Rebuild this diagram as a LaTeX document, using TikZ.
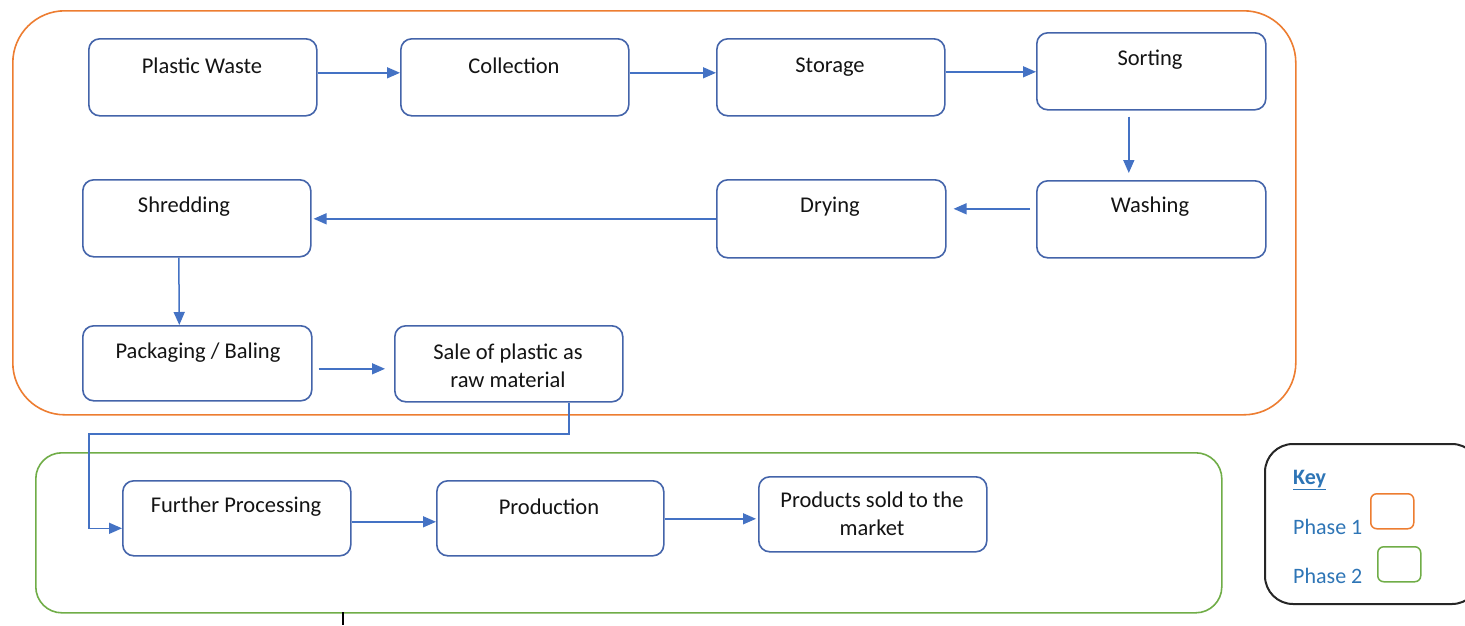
\documentclass[tikz,border=0pt]{standalone}
\usepackage{fontspec}
\setmainfont{Carlito}
\usetikzlibrary{arrows.meta}
\definecolor{boxblue}{RGB}{68,100,170}
\definecolor{arrblue}{RGB}{68,114,196}
\definecolor{phaseorange}{RGB}{237,125,49}
\definecolor{phasegreen}{RGB}{112,173,71}
\definecolor{keyblue}{RGB}{46,117,182}
\definecolor{txt}{RGB}{20,20,20}
\begin{document}
\begin{tikzpicture}[x=1pt,y=-1pt,
  stepbox/.style={draw=boxblue, rounded corners=11pt, line width=1.6pt, minimum width=228pt, minimum height=77pt, inner sep=0pt, anchor=north west},
  lbl/.style={text=txt, font=\fontsize{22.5}{28}\selectfont, align=center, inner sep=0pt},
  arr/.style={draw=arrblue, line width=1.5pt, -{Triangle[length=13pt,width=11pt]}},
  phase/.style={line width=1.6pt, inner sep=0pt, anchor=north west},
  keytxt/.style={text=keyblue, font=\fontsize{22}{26}\selectfont, inner sep=0pt}]
\useasboundingbox (0,0) rectangle (1465,625);
\clip (0,0) rectangle (1465,625);
\fill[white] (0,0) rectangle (1465,625);

% phase containers
\node[phase, draw=phaseorange, rounded corners=52pt, minimum width=1283pt, minimum height=404pt] (phaseone) at (12,10) {};
\node[phase, draw=phasegreen, rounded corners=26pt, minimum width=1186pt, minimum height=160pt] (phasetwo) at (35,452) {};

% boxes
\node[stepbox] (pw) at (88,38) {};
\node[stepbox] (col) at (400,38) {};
\node[stepbox] (sto) at (716,38) {};
\node[stepbox, minimum width=229pt] (sor) at (1036,32) {};
\node[stepbox, minimum width=229pt] (was) at (1036,180) {};
\node[stepbox, minimum width=229pt, minimum height=78pt] (dry) at (716,179) {};
\node[stepbox] (shr) at (82,179) {};
\node[stepbox, minimum width=229pt, minimum height=75pt] (pack) at (82,325) {};
\node[stepbox, minimum height=76pt] (sale) at (394,325) {};
\node[stepbox, minimum height=75pt] (fur) at (122,480) {};
\node[stepbox, minimum width=227pt, minimum height=75pt] (prod) at (436,480) {};
\node[stepbox, minimum height=75pt] (psold) at (758,476) {};

% labels
\node[lbl] (pwt) at (202,66) {Plastic Waste};
\node[lbl] (colt) at (514,66) {Collection};
\node[lbl] (stot) at (830,67) {Storage};
\node[lbl] (sort) at (1150,60) {Sorting};
\node[lbl] (wast) at (1150,207) {Washing};
\node[lbl] (dryt) at (830,207) {Drying};
\node[lbl] (shrt) at (184,207) {Shredding};
\node[lbl] (packt) at (198,353) {Packaging / Baling};
\node[lbl] (salet) at (508,366) {Sale of plastic as\\raw material};
\node[lbl] (furt) at (236,507) {Further Processing};
\node[lbl] (prodt) at (549,507) {Production};
\node[lbl] (psoldt) at (872,514) {Products sold to the\\market};

% connectors
\draw[arr] ([yshift=4.5pt]pw.east) -- ([yshift=4.5pt]col.west);
\draw[arr] ([yshift=4.5pt]col.east) -- ([yshift=4.5pt]sto.west);
\draw[arr] ([yshift=5.5pt]sto.east) -- ([yshift=-0.5pt]sor.west);
\draw[arr, shorten <=6pt, shorten >=7pt] ([xshift=-22.5pt]sor.south) -- ([xshift=-22.5pt]was.north);
\draw[arr, shorten <=6pt, shorten >=7pt] ([yshift=10.5pt]was.west) -- ([yshift=10pt]dry.east);
\draw[arr, shorten >=2pt] (dry.west) -- ([yshift=-0.5pt]shr.east);
\draw[arr] ([xshift=-18pt]shr.south) -- ([xshift=-18pt]pack.north);
\draw[arr, shorten <=6pt, shorten >=9pt] ([yshift=-5.5pt]pack.east) -- ([yshift=-5pt]sale.west);
\coordinate (turn) at (89,434);
\draw[arr] ([xshift=60pt]sale.south) |- (turn) |- ([yshift=-10pt]fur.west);
\draw[arr] ([yshift=-3.5pt]fur.east) -- ([yshift=-3.5pt]prod.west);
\draw[arr, shorten >=2pt] ([yshift=-0.5pt]prod.east) -- ([yshift=-4.5pt]psold.west);

% stray stub under phase 2
\coordinate (stubtop) at (343,612);
\coordinate (stubend) at (343,625);
\draw[line width=1.2pt, black] (stubtop) -- (stubend);

% key
\node[phase, draw=black!85, rounded corners=28pt, line width=2pt, minimum width=215pt, minimum height=160pt] (keybox) at (1264,443) {};
\node[keytxt, font=\fontsize{22}{26}\selectfont\bfseries, anchor=west] (keyt) at (1293,480) {\underline{Key}};
\node[keytxt, anchor=west] (ph1) at (1293,527) {Phase 1};
\node[keytxt, anchor=west] (ph2) at (1293,576) {Phase 2};
\node[phase, draw=phaseorange, rounded corners=6pt, line width=1.5pt, minimum width=43pt, minimum height=35pt] (k1) at (1370,493) {};
\node[phase, draw=phasegreen, rounded corners=6pt, line width=1.5pt, minimum width=43pt, minimum height=35pt] (k2) at (1377,546) {};
\end{tikzpicture}
\end{document}
